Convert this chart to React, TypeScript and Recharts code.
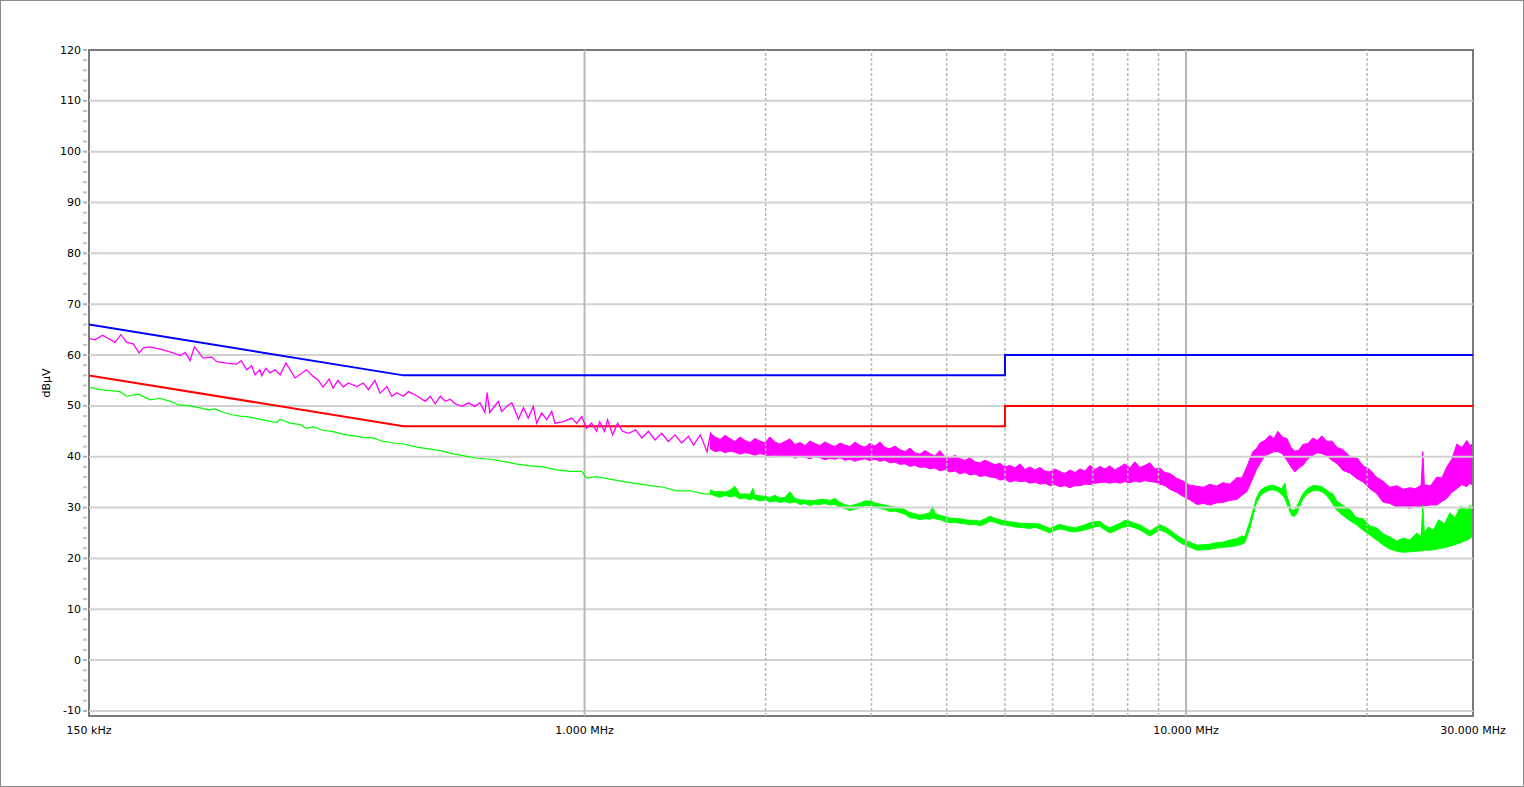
import React from 'react';
import { ComposedChart, Line, Area, XAxis, YAxis, ReferenceLine, ReferenceArea } from 'recharts';

// Peak (magenta) trace – thin line section [MHz, dBµV]
const peakLine: [number, number][] = [
  [0.150, 63.3], [0.1535, 63.0], [0.158, 63.9], [0.1657, 62.5], [0.1695, 64.0], [0.1734, 62.5], [0.1777, 62.2],
  [0.1817, 60.4], [0.1847, 61.4], [0.1894, 61.6], [0.1993, 61.0], [0.2074, 60.4], [0.2128, 59.9], [0.2169, 60.5],
  [0.2209, 58.9], [0.2245, 61.6], [0.2323, 59.4], [0.240, 59.6], [0.2447, 58.7], [0.2542, 58.4], [0.2639, 58.2],
  [0.2685, 58.9], [0.2744, 57.1], [0.2796, 57.9], [0.2832, 56.1], [0.2887, 57.1], [0.2905, 55.9], [0.2952, 57.4],
  [0.300, 56.5], [0.3058, 57.1], [0.3118, 56.1], [0.3189, 58.4], [0.3239, 57.1], [0.3302, 55.5], [0.3449, 57.1],
  [0.3538, 55.8], [0.3604, 55.1], [0.3675, 53.7], [0.3761, 55.3], [0.3818, 53.5], [0.389, 55.0], [0.3972, 53.7],
  [0.4048, 54.5], [0.418, 53.8], [0.4287, 54.5], [0.437, 53.2], [0.4482, 55.0], [0.4571, 52.5], [0.4692, 53.8],
  [0.478, 51.9], [0.4873, 52.6], [0.4996, 51.9], [0.5095, 52.8], [0.5261, 52.0], [0.5434, 50.9], [0.554, 51.9],
  [0.5644, 50.4], [0.5756, 51.9], [0.5866, 50.9], [0.5976, 51.3], [0.6096, 50.4], [0.6257, 49.9], [0.6414, 50.6],
  [0.6572, 49.9], [0.670, 50.6], [0.6829, 48.7], [0.6888, 52.6], [0.6958, 48.7], [0.7186, 50.9], [0.7281, 48.9],
  [0.7425, 49.9], [0.757, 50.6], [0.7765, 47.4], [0.7915, 49.6], [0.806, 47.6], [0.8218, 49.9], [0.8324, 46.6],
  [0.8487, 48.6], [0.8653, 47.3], [0.882, 48.9], [0.893, 46.6], [0.9222, 46.9], [0.9518, 47.6], [0.9705, 46.6],
  [0.9892, 47.9], [1.008, 45.6], [1.027, 46.6], [1.047, 45.0], [1.0595, 46.9], [1.0795, 45.0], [1.092, 47.3],
  [1.1135, 44.3], [1.135, 46.6], [1.156, 45.0], [1.185, 44.6], [1.2155, 45.3], [1.2455, 43.7], [1.277, 45.0],
  [1.310, 43.3], [1.3435, 44.6], [1.378, 43.0], [1.414, 44.3], [1.45, 42.7], [1.4885, 44.0], [1.518, 42.3],
  [1.5575, 44.3], [1.598, 41.0], [1.62, 44.6], [1.642, 42.7], [1.673, 42.0],
];

// Peak (magenta) trace – dense noise band [MHz, low, high]
const peakBand: [number, number, number][] = [
  [1.616, 41.6, 44.7], [1.648, 41.0, 43.9], [1.680, 41.2, 43.4], [1.712, 40.8, 44.2], [1.745, 41.1, 43.6],
  [1.778, 40.9, 43.0], [1.813, 40.5, 43.9], [1.848, 40.8, 43.2], [1.884, 40.6, 42.8], [1.920, 40.3, 43.6],
  [1.957, 40.6, 43.1], [1.995, 40.4, 42.7], [2.033, 39.9, 43.9], [2.072, 40.3, 42.9], [2.112, 40.2, 42.5],
  [2.153, 40.0, 43.0], [2.195, 40.3, 43.5], [2.238, 39.7, 42.4], [2.281, 40.1, 42.8], [2.325, 39.9, 42.2],
  [2.370, 39.6, 43.1], [2.415, 40.0, 42.6], [2.462, 39.8, 42.2], [2.510, 39.4, 42.9], [2.559, 39.7, 42.4],
  [2.608, 39.5, 42.0], [2.659, 39.8, 42.7], [2.710, 39.3, 42.3], [2.762, 39.5, 42.0], [2.816, 39.1, 42.9],
  [2.870, 39.4, 42.2], [2.926, 39.6, 41.9], [2.983, 39.2, 42.6], [3.040, 39.5, 42.1], [3.098, 39.1, 42.9],
  [3.158, 39.3, 41.8], [3.220, 38.8, 41.6], [3.282, 38.9, 42.1], [3.345, 38.5, 41.4], [3.410, 38.6, 41.0],
  [3.475, 38.1, 41.7], [3.542, 38.3, 40.8], [3.611, 37.9, 40.5], [3.680, 38.0, 41.2], [3.752, 37.6, 40.6],
  [3.824, 37.8, 40.2], [3.898, 37.2, 41.2], [3.974, 37.5, 40.0], [4.051, 37.0, 39.8], [4.129, 37.2, 40.3],
  [4.209, 36.6, 39.6], [4.290, 36.9, 39.3], [4.372, 36.4, 39.8], [4.457, 36.6, 39.0], [4.543, 36.1, 38.8],
  [4.631, 36.3, 39.3], [4.721, 36.0, 38.9], [4.812, 35.9, 38.4], [4.905, 35.4, 38.7], [5.000, 35.6, 38.0],
  [5.096, 35.0, 38.3], [5.195, 35.3, 37.8], [5.295, 35.1, 38.6], [5.398, 35.2, 37.5], [5.502, 34.8, 38.0],
  [5.608, 35.0, 37.4], [5.716, 34.6, 37.9], [5.826, 34.8, 37.2], [5.938, 34.3, 37.0], [6.053, 34.5, 37.6],
  [6.170, 34.1, 37.1], [6.290, 34.3, 36.7], [6.412, 33.9, 37.4], [6.536, 34.3, 36.9], [6.662, 34.3, 37.6],
  [6.790, 34.6, 37.2], [6.921, 34.5, 38.3], [7.055, 34.8, 37.5], [7.192, 34.9, 38.1], [7.331, 35.0, 37.6],
  [7.472, 34.8, 38.2], [7.617, 35.0, 37.4], [7.765, 34.8, 38.0], [7.914, 35.1, 38.6], [8.066, 34.9, 37.8],
  [8.222, 35.2, 39.0], [8.382, 35.0, 37.9], [8.544, 35.3, 38.3], [8.710, 35.1, 38.8], [8.878, 35.0, 37.6],
  [9.050, 34.6, 37.8], [9.225, 34.3, 36.9], [9.402, 33.6, 36.7], [9.640, 33.0, 35.8], [9.881, 32.2, 35.2],
  [10.15, 31.5, 34.4], [10.43, 30.6, 34.2], [10.69, 30.8, 34.0], [10.96, 30.5, 34.6], [11.23, 30.9, 34.2],
  [11.51, 31.0, 34.9], [11.83, 31.4, 34.6], [12.15, 31.6, 35.9], [12.38, 32.4, 35.8], [12.62, 33.1, 38.0],
  [12.91, 35.7, 41.0], [13.10, 37.5, 41.6], [13.27, 38.6, 42.7], [13.52, 40.2, 43.2], [13.78, 40.6, 44.2],
  [14.00, 41.0, 43.6], [14.21, 41.0, 45.0], [14.45, 40.6, 43.9], [14.71, 39.3, 43.6], [14.95, 38.0, 41.8],
  [15.17, 37.0, 41.1], [15.40, 37.8, 41.3], [15.64, 38.3, 42.4], [15.95, 39.6, 42.6], [16.25, 40.3, 43.7],
  [16.53, 40.8, 43.2], [16.82, 40.6, 44.1], [17.15, 40.2, 43.0], [17.47, 39.3, 43.1], [17.85, 38.6, 41.8],
  [18.23, 37.3, 41.4], [18.72, 36.8, 40.1], [19.23, 35.7, 39.8], [19.71, 35.0, 38.2], [20.21, 33.7, 37.5],
  [20.72, 32.8, 36.0], [21.25, 31.1, 35.2], [21.82, 30.8, 34.0], [22.41, 30.1, 34.3], [22.98, 30.3, 33.6],
  [23.56, 29.8, 33.9], [24.05, 30.3, 33.7], [24.6, 30.1, 34.4], [24.76, 30.3, 41.0], [24.9, 30.3, 34.5],
  [25.5, 30.5, 34.3], [26.12, 30.5, 36.0], [26.62, 31.2, 35.8], [27.14, 31.8, 38.0], [27.66, 33.0, 39.5],
  [28.20, 33.7, 42.5], [28.75, 34.5, 41.8], [29.30, 34.1, 43.2], [29.65, 34.8, 42.2], [30.0, 34.3, 42.6],
];

// Average (green) trace – thin line section [MHz, dBµV]
const avgLine: [number, number][] = [
  [0.150, 53.7], [0.1564, 53.2], [0.1626, 53.0], [0.1689, 52.8], [0.1733, 51.9], [0.1812, 52.3], [0.1894, 51.2],
  [0.1969, 51.5], [0.2046, 50.9], [0.2112, 50.2], [0.2209, 50.0], [0.2294, 49.6], [0.2367, 49.2], [0.243, 49.4],
  [0.2509, 48.7], [0.2606, 48.2], [0.2674, 48.0], [0.2743, 47.9], [0.2849, 47.5], [0.2962, 47.1], [0.308, 46.7],
  [0.3118, 47.4], [0.3239, 46.6], [0.3365, 46.3], [0.3449, 45.6], [0.3538, 45.9], [0.3667, 45.2], [0.3804, 45.0],
  [0.3972, 44.4], [0.4128, 44.1], [0.4287, 43.8], [0.4454, 43.7], [0.4629, 43.0], [0.4808, 42.7], [0.4996, 42.5],
  [0.5261, 41.9], [0.554, 41.5], [0.5756, 41.2], [0.6016, 40.6], [0.6285, 40.2], [0.6609, 39.7], [0.6958, 39.5],
  [0.7308, 39.1], [0.7689, 38.6], [0.8111, 38.2], [0.8538, 38.0], [0.8987, 37.4], [0.9455, 37.1], [0.9892, 37.1],
  [1.008, 35.8], [1.047, 36.1], [1.102, 35.6], [1.160, 35.1], [1.221, 34.7], [1.285, 34.3], [1.352, 34.0],
  [1.423, 33.3], [1.4975, 33.3], [1.576, 32.7], [1.658, 32.7],
];

// Average (green) trace – noise band [MHz, low, high]
const avgBand: [number, number, number][] = [
  [1.616, 32.7, 33.5], [1.648, 32.3, 33.1], [1.680, 32.0, 33.2], [1.712, 32.4, 33.0], [1.745, 32.1, 33.4],
  [1.778, 32.3, 34.2], [1.813, 31.7, 32.6], [1.848, 31.9, 32.7], [1.884, 31.5, 32.6], [1.905, 31.8, 33.8],
  [1.920, 31.6, 32.4], [1.957, 31.3, 32.3], [1.995, 31.5, 32.2], [2.033, 31.1, 32.0], [2.072, 31.3, 32.4],
  [2.112, 31.0, 31.9], [2.153, 31.2, 32.0], [2.195, 30.9, 33.1], [2.238, 31.1, 31.8], [2.281, 30.6, 31.5],
  [2.325, 30.8, 31.5], [2.370, 30.4, 31.3], [2.415, 30.7, 31.4], [2.462, 30.6, 31.6], [2.510, 30.8, 31.6],
  [2.559, 30.5, 31.4], [2.608, 30.6, 31.8], [2.659, 30.1, 31.0], [2.710, 29.8, 30.6], [2.762, 29.4, 30.3],
  [2.816, 29.7, 30.6], [2.870, 30.0, 30.9], [2.926, 30.4, 31.3], [2.983, 30.4, 31.3], [3.040, 30.2, 30.9],
  [3.098, 29.8, 30.7], [3.158, 29.6, 30.5], [3.220, 29.2, 30.2], [3.282, 29.3, 30.1], [3.345, 29.0, 30.0],
  [3.410, 28.7, 29.6], [3.475, 28.0, 29.0], [3.542, 27.9, 28.8], [3.611, 27.6, 28.5], [3.680, 27.8, 28.7],
  [3.752, 27.7, 29.0], [3.790, 27.9, 30.3], [3.824, 27.8, 28.8], [3.898, 27.6, 28.5], [3.974, 27.3, 28.2],
  [4.051, 27.0, 27.9], [4.129, 27.1, 27.9], [4.209, 26.9, 27.8], [4.290, 26.8, 27.6], [4.372, 26.6, 27.5],
  [4.457, 26.7, 27.5], [4.543, 26.4, 27.3], [4.631, 26.8, 27.8], [4.721, 27.3, 28.3], [4.812, 27.1, 27.9],
  [4.905, 26.7, 27.6], [5.000, 26.5, 27.4], [5.096, 26.4, 27.2], [5.195, 26.2, 27.1], [5.295, 26.1, 26.9],
  [5.398, 26.0, 26.9], [5.502, 25.9, 26.8], [5.608, 26.1, 26.9], [5.716, 25.8, 26.7], [5.826, 25.4, 26.3],
  [5.938, 25.0, 25.9], [6.053, 25.5, 26.3], [6.170, 25.8, 26.7], [6.290, 25.6, 26.4], [6.412, 25.3, 26.2],
  [6.536, 25.2, 26.0], [6.662, 25.4, 26.3], [6.790, 25.6, 26.6], [6.921, 25.9, 27.0], [7.055, 26.2, 27.2],
  [7.192, 26.3, 27.3], [7.331, 25.6, 26.5], [7.472, 25.0, 26.0], [7.617, 25.4, 26.5], [7.765, 25.9, 26.9],
  [7.914, 26.2, 27.5], [8.066, 26.3, 27.3], [8.222, 26.0, 26.9], [8.382, 25.6, 26.6], [8.544, 25.0, 26.0],
  [8.710, 24.4, 25.4], [8.878, 25.0, 26.0], [9.050, 25.6, 26.6], [9.225, 25.2, 26.2], [9.402, 24.6, 25.6],
  [9.640, 23.6, 24.6], [9.881, 22.8, 23.8], [10.15, 22.2, 23.2], [10.43, 21.6, 22.6], [10.69, 21.7, 22.7],
  [10.96, 21.8, 22.8], [11.23, 22.0, 23.1], [11.51, 22.2, 23.2], [11.83, 22.3, 23.6], [12.15, 22.5, 23.9],
  [12.38, 22.8, 24.4], [12.53, 23.1, 24.3], [12.77, 26.0, 27.3], [13.10, 31.0, 32.0], [13.30, 32.4, 33.4],
  [13.53, 33.0, 34.0], [13.75, 33.4, 34.3], [13.96, 33.5, 34.4], [14.20, 33.2, 34.1], [14.42, 32.6, 33.6],
  [14.60, 31.8, 34.8], [14.71, 30.7, 32.4], [14.99, 28.4, 29.4], [15.15, 28.3, 29.6], [15.28, 28.8, 30.2],
  [15.64, 31.7, 32.7], [15.95, 32.8, 33.8], [16.25, 33.3, 34.3], [16.53, 33.4, 34.3], [16.82, 33.1, 34.1],
  [17.10, 32.5, 33.5], [17.35, 31.5, 32.9], [17.55, 30.6, 32.7], [17.80, 29.5, 31.3], [18.25, 28.4, 30.4],
  [18.73, 27.4, 29.6], [19.2, 26.6, 28.0], [19.71, 25.5, 27.8], [20.2, 24.6, 26.4], [20.75, 23.6, 26.0],
  [21.3, 22.6, 24.8], [21.84, 21.8, 24.2], [22.4, 21.4, 23.4], [22.97, 21.2, 24.0], [23.56, 21.3, 23.6],
  [24.18, 21.4, 25.0], [24.6, 21.5, 24.3], [24.76, 21.5, 30.5], [24.9, 21.6, 25.0], [25.3, 21.6, 26.2],
  [25.77, 21.7, 25.5], [26.3, 21.9, 27.6], [26.9, 22.1, 26.8], [27.47, 22.4, 29.0], [28.0, 22.7, 28.0],
  [28.6, 23.1, 30.2], [29.32, 23.6, 29.6], [29.7, 24.0, 30.5], [30.0, 24.5, 29.0],
];

// Limit lines
const limitMHz = [0.15, 0.5, 5, 5, 30];
const qpLimitDb = [66, 56, 56, 60, 60];
const avLimitDb = [56, 46, 46, 50, 50];

// Axis ticks and grid
const xTickMHz = [0.15, 1, 10, 30];
const xTickLabels = ['150 kHz', '1.000 MHz', '10.000 MHz', '30.000 MHz'];
const yTicks = [-10, -8, -6, -4, -2, 0, 2, 4, 6, 8, 10, 12, 14, 16, 18, 20, 22, 24, 26, 28, 30, 32, 34, 36, 38, 40,
  42, 44, 46, 48, 50, 52, 54, 56, 58, 60, 62, 64, 66, 68, 70, 72, 74, 76, 78, 80, 82, 84, 86, 88, 90, 92, 94, 96, 98,
  100, 102, 104, 106, 108, 110, 112, 114, 116, 118, 120];
const yGrid = [-10, 0, 10, 20, 30, 40, 50, 60, 70, 80, 90, 100, 110];
const xGridSolid = [1, 10];
const xGridDashed = [2, 3, 4, 5, 6, 7, 8, 9, 20];

const FONT = '"DejaVu Sans", Verdana, sans-serif';

const peakLineData = peakLine.map(([f, v]) => ({ f, v }));
const peakBandData = peakBand.map(([f, lo, hi]) => ({ f, r: [lo, hi] }));
const avgLineData = avgLine.map(([f, v]) => ({ f, v }));
const avgBandData = avgBand.map(([f, lo, hi]) => ({ f, r: [lo, hi] }));
const qpData = limitMHz.map((f, i) => ({ f, v: qpLimitDb[i] }));
const avData = limitMHz.map((f, i) => ({ f, v: avLimitDb[i] }));

const YTick = (props: any) => {
  const { y, payload } = props;
  const v = payload.value;
  const major = v % 10 === 0;
  return (
    <g>
      <line x1={82} x2={86} y1={y} y2={y} stroke={major ? '#b0b0b0' : '#c4c4c4'} strokeWidth={2} />
      {major && (
        <text x={80} y={y} textAnchor="end" dominantBaseline="central" fontSize={11} fill="#000" fontFamily={FONT}>
          {v}
        </text>
      )}
    </g>
  );
};

const XTick = (props: any) => {
  const { x, payload } = props;
  const i = xTickMHz.indexOf(payload.value);
  return (
    <text x={x} y={729} textAnchor="middle" dominantBaseline="central" fontSize={11} fill="#000" fontFamily={FONT}>
      {xTickLabels[i]}
    </text>
  );
};

const YTitle = () => (
  <text x={45} y={382} transform="rotate(-90 45 382)" textAnchor="middle" dominantBaseline="central" fontSize={11} fill="#000" fontFamily={FONT}>
    dBµV
  </text>
);

export default function App() {
  return (
    <div
      style={{
        position: 'absolute',
        left: 0,
        top: 0,
        width: 1524,
        height: 787,
        boxSizing: 'border-box',
        border: '1px solid #8a8a8a',
        background: '#fff',
        fontFamily: FONT,
      }}
    >
      <ComposedChart width={1522} height={785} margin={{ top: 49, right: 50, bottom: 40, left: 0 }}>
        <XAxis
          dataKey="f"
          type="number"
          scale="log"
          domain={[0.15, 30]}
          allowDataOverflow
          ticks={xTickMHz}
          interval={0}
          tick={<XTick />}
          tickLine={false}
          axisLine={false}
          height={30}
        />
        <YAxis
          type="number"
          domain={[-11, 120]}
          allowDataOverflow
          ticks={yTicks}
          interval={0}
          tick={<YTick />}
          tickLine={false}
          axisLine={false}
          width={88}
          label={<YTitle />}
        />
        {yGrid.map((v) => (
          <ReferenceLine key={'h' + v} y={v} stroke="#d2d2d2" strokeWidth={2} />
        ))}
        {xGridDashed.map((v) => (
          <ReferenceLine key={'vd' + v} x={v} stroke="#b8b8b8" strokeWidth={1.5} strokeDasharray="3 2" />
        ))}
        {xGridSolid.map((v) => (
          <ReferenceLine key={'vs' + v} x={v} stroke="#b8b8b8" strokeWidth={2} />
        ))}
        <Line data={qpData} dataKey="v" type="linear" stroke="#0000ff" strokeWidth={2} dot={false} activeDot={false} isAnimationActive={false} />
        <Line data={avData} dataKey="v" type="linear" stroke="#ff0000" strokeWidth={2} dot={false} activeDot={false} isAnimationActive={false} />
        <Area data={peakBandData} dataKey="r" type="linear" stroke="#ff00ff" strokeWidth={1} fill="#ff00ff" fillOpacity={1} dot={false} activeDot={false} isAnimationActive={false} />
        <Line data={peakLineData} dataKey="v" type="linear" stroke="#ff00ff" strokeWidth={1.3} dot={false} activeDot={false} isAnimationActive={false} />
        <Area data={avgBandData} dataKey="r" type="linear" stroke="#00ff00" strokeWidth={1} fill="#00ff00" fillOpacity={1} dot={false} activeDot={false} isAnimationActive={false} />
        <Line data={avgLineData} dataKey="v" type="linear" stroke="#00ff00" strokeWidth={1.2} dot={false} activeDot={false} isAnimationActive={false} />
        <ReferenceArea x1={0.15} x2={30} y1={-11} y2={120} fill="none" stroke="#7a7a7a" strokeWidth={2} ifOverflow="visible" />
      </ComposedChart>
    </div>
  );
}
